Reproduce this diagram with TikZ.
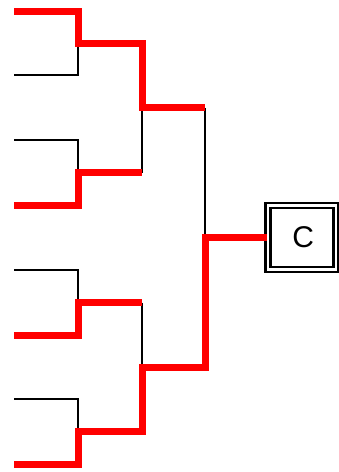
\documentclass[tikz,border=0pt]{standalone}
\usepackage{fontspec}
\setmainfont{Liberation Sans}
\usetikzlibrary{positioning}

\begin{document}
\begin{tikzpicture}[x=1pt,y=-1pt,
  lose/.style={draw=black,line width=2pt},
  win/.style={draw=red,line width=7pt,line join=miter},
  champbox/.style={draw=black,double,double distance=2.5pt,line width=2.5pt,minimum width=68pt,minimum height=64pt,inner sep=0pt,font=\fontsize{30}{34}\selectfont}
]
\useasboundingbox (0,0) rectangle (338,472);
\coordinate (l1) at (14,11);
\coordinate (l2) at (14,75);
\coordinate (l3) at (14,140);
\coordinate (l4) at (14,205);
\coordinate (l5) at (14,270);
\coordinate (l6) at (14,335);
\coordinate (l7) at (14,399);
\coordinate (l8) at (14,464);
\coordinate (j1) at (78,43);
\coordinate (j2) at (78,172.5);
\coordinate (j3) at (78,302.5);
\coordinate (j4) at (78,431.5);
\coordinate (k1) at (142,107.75);
\coordinate (k2) at (142,367);
\coordinate (fin) at (205,237.5);
\node[champbox] (champ) at (301.8,237.5) {\hspace{3pt}C};
\draw[lose] (l2) -| (j1);
\draw[lose] (l3) -| (j2);
\draw[lose] (l5) -| (j3);
\draw[lose] (l7) -| (j4);
\draw[lose] (j2 -| k1) -- (k1);
\draw[lose] (j3 -| k2) -- (k2);
\draw[lose] (k1 -| fin) -- (fin);
\draw[win] (l1) -| (j1) -- (j1 -| k1) -- (k1) -- (k1 -| fin);
\draw[win] (l4) -| (j2) -- (j2 -| k1);
\draw[win] (l6) -| (j3) -- (j3 -| k2);
\draw[win] (l8) -| (j4) -- (j4 -| k2) -- (k2) -| (fin) -- (champ.west);
\end{tikzpicture}
\end{document}
